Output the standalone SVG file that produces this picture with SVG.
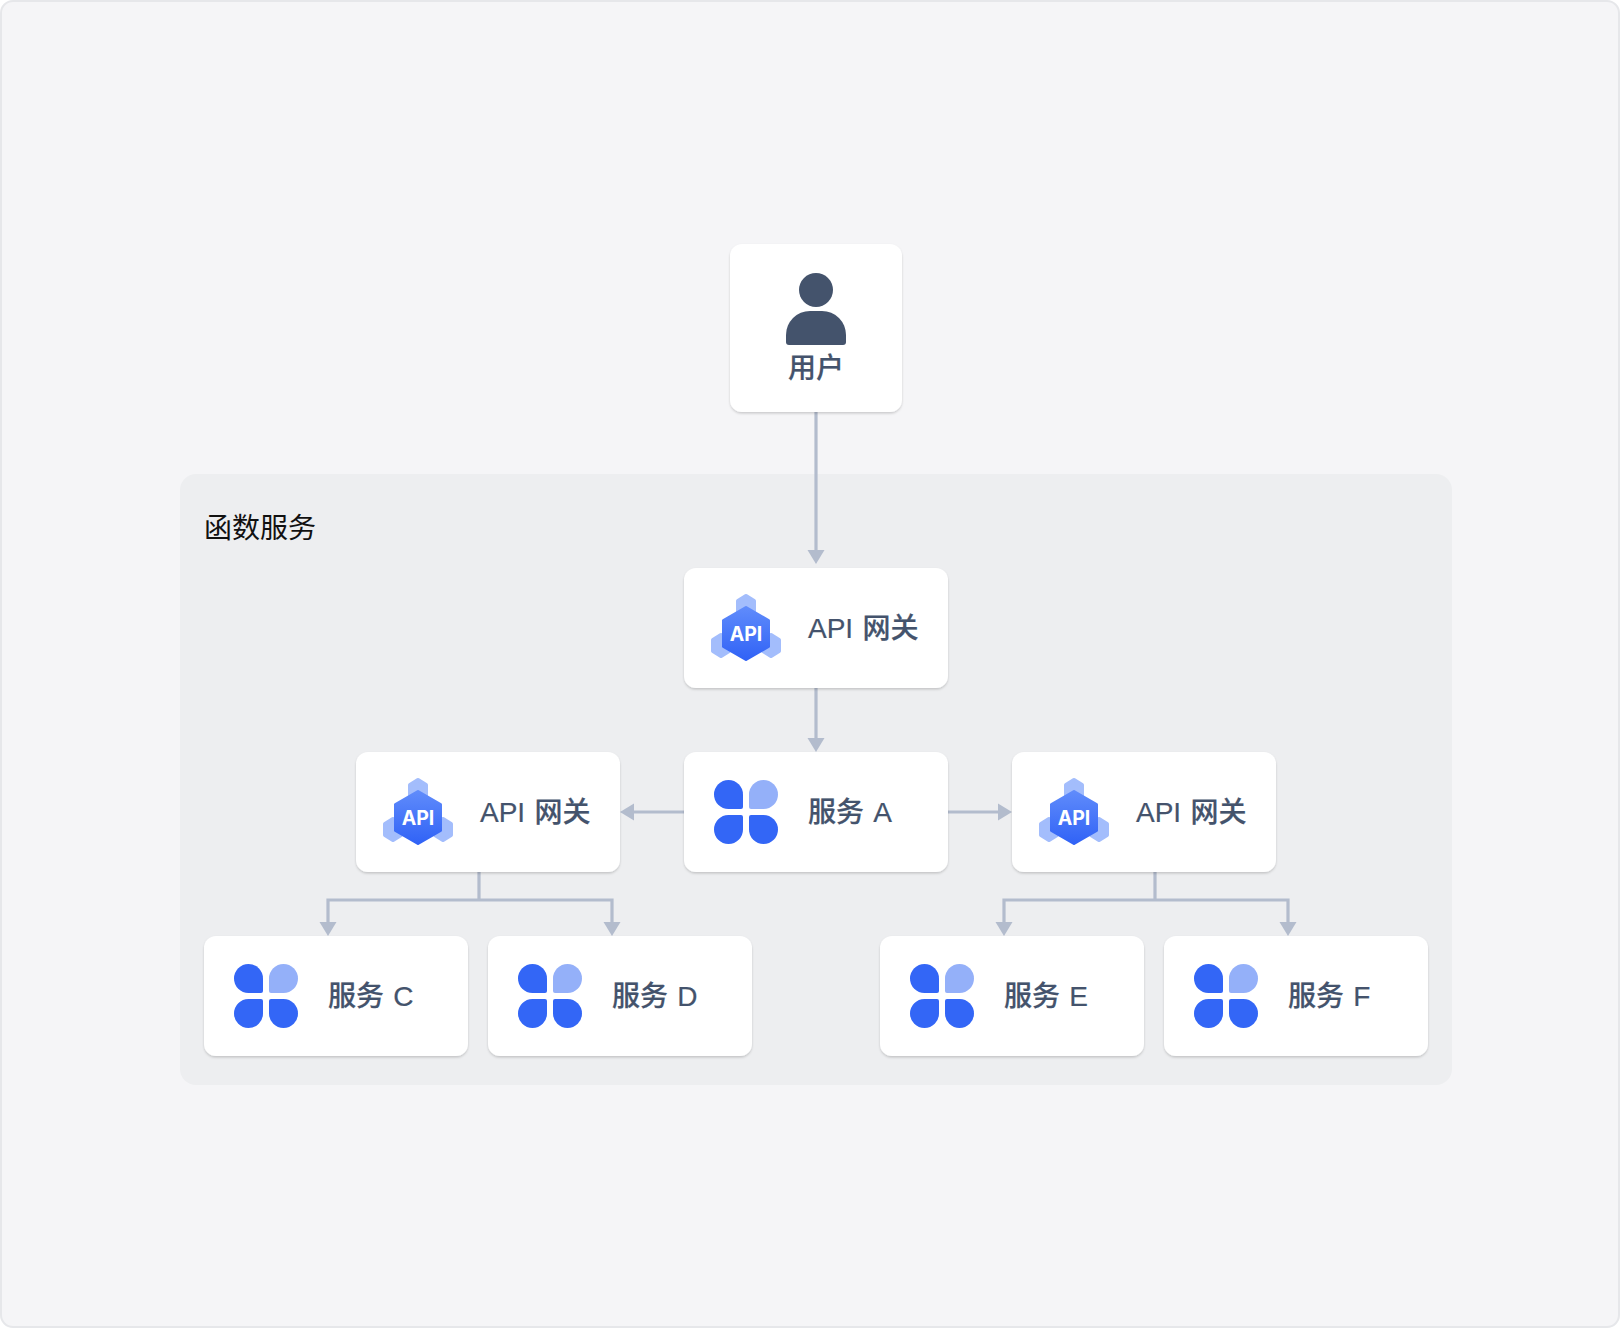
<svg xmlns="http://www.w3.org/2000/svg" width="1620" height="1328" viewBox="0 0 1620 1328">
<style>
.card{fill:#fff;stroke:none;filter:url(#sh)}
.lbl{font-family:"Liberation Sans","Noto Sans CJK SC",sans-serif;font-size:28px;font-weight:500;fill:#44536c;stroke:#44536c;stroke-width:.2;word-spacing:1.500px}
.ln{fill:none;stroke:#b3bccd;stroke-width:3.200}
.ah{fill:#b3bccd}
.d{fill:#3366f6}
.l{fill:#94b0f9}
.sm{fill:#a3bdfc;stroke:#a3bdfc;stroke-width:4;stroke-linejoin:round}
</style>
<defs>
<filter id="sh" x="-5%" y="-5%" width="110%" height="115%"><feDropShadow dx="0" dy="1.500" stdDeviation="0.800" flood-color="#000" flood-opacity="0.180"/></filter>
<linearGradient id="hg" x1="0" y1="0" x2="0" y2="1"><stop offset="0" stop-color="#5f8bfb"/><stop offset="1" stop-color="#3163f6"/></linearGradient>
<g id="clover">
<path class="d" d="M14.500 0A14.500 14.500 0 0 1 29 14.500V27A2 2 0 0 1 27 29H14.500A14.500 14.500 0 0 1 14.500 0Z"/>
<path class="l" d="M49.500 0A14.500 14.500 0 0 1 49.500 29H37A2 2 0 0 1 35 27V14.500A14.500 14.500 0 0 1 49.500 0Z"/>
<path class="d" d="M14.500 35H27A2 2 0 0 1 29 37V49.500A14.500 14.500 0 0 1 0 49.500A14.500 14.500 0 0 1 14.500 35Z"/>
<path class="d" d="M37 35H49.500A14.500 14.500 0 0 1 49.500 64A14.500 14.500 0 0 1 35 49.500V37A2 2 0 0 1 37 35Z"/>
</g>
<g id="apiicon">
<path class="sm" d="M36 2L44 7V18L36 23L28 18V7Z"/>
<path class="sm" d="M11 41L19 46V57L11 62L3 57V46Z"/>
<path class="sm" d="M61 41L69 46V57L61 62L53 57V46Z"/>
<path fill="url(#hg)" stroke="url(#hg)" stroke-width="3" stroke-linejoin="round" d="M36 13.500L58.500 26.500V52.500L36 65.500L13.500 52.500V26.500Z"/>
<text x="36" y="47" text-anchor="middle" font-family="Inter,'Liberation Sans',sans-serif" font-weight="700" font-size="19.500" fill="#fff">API</text>
</g>
</defs>
<rect id="canvas" x="1" y="1" width="1618" height="1326" rx="12" fill="#f5f5f7" stroke="#e6e7ea" stroke-width="2"/>
<g id="group-fn">
<rect x="180" y="474" width="1272" height="611" rx="16" fill="#edeef0"/>
<text x="204" y="538" font-family="'Noto Sans CJK SC',sans-serif" font-size="28" fill="#111">函数服务</text>
</g>
<g id="connectors">
<path class="ln" d="M816 412V552"/><path class="ah" d="M807.500 550H824.500L816 564Z"/>
<path class="ln" d="M816 688V740"/><path class="ah" d="M807.500 738H824.500L816 752Z"/>
<path class="ln" d="M684 812H632"/><path class="ah" d="M634 803.500V820.500L620 812Z"/>
<path class="ln" d="M948 812H1000"/><path class="ah" d="M998 803.500V820.500L1012 812Z"/>
<path class="ln" d="M479 872V900M328 924V900H612V924"/><path class="ah" d="M319.500 922H336.500L328 936Z"/><path class="ah" d="M603.500 922H620.500L612 936Z"/>
<path class="ln" d="M1155 872V900M1004 924V900H1288V924"/><path class="ah" d="M995.500 922H1012.500L1004 936Z"/><path class="ah" d="M1279.500 922H1296.500L1288 936Z"/>
</g>
<g id="user">
<rect class="card" x="730" y="244" width="172" height="168" rx="12"/>
<circle cx="816" cy="290" r="17" fill="#44536c"/>
<path fill="#44536c" d="M786 342V335A24 24 0 0 1 810 311H822A24 24 0 0 1 846 335V342A3 3 0 0 1 843 345H789A3 3 0 0 1 786 342Z"/>
<text class="lbl" x="816" y="378" text-anchor="middle">用户</text>
</g>
<g id="gateway-main">
<rect class="card" x="684" y="568" width="264" height="120" rx="12"/>
<use href="#apiicon" x="710" y="594"/>
<text class="lbl" x="808" y="638">API 网关</text>
</g>
<g id="service-a">
<rect class="card" x="684" y="752" width="264" height="120" rx="12"/>
<use href="#clover" x="714" y="780"/>
<text class="lbl" x="808" y="822">服务 A</text>
</g>
<g id="gateway-left">
<rect class="card" x="356" y="752" width="264" height="120" rx="12"/>
<use href="#apiicon" x="382" y="778"/>
<text class="lbl" x="480" y="822">API 网关</text>
</g>
<g id="gateway-right">
<rect class="card" x="1012" y="752" width="264" height="120" rx="12"/>
<use href="#apiicon" x="1038" y="778"/>
<text class="lbl" x="1136" y="822">API 网关</text>
</g>
<g id="service-c">
<rect class="card" x="204" y="936" width="264" height="120" rx="12"/>
<use href="#clover" x="234" y="964"/>
<text class="lbl" x="328" y="1006">服务 C</text>
</g>
<g id="service-d">
<rect class="card" x="488" y="936" width="264" height="120" rx="12"/>
<use href="#clover" x="518" y="964"/>
<text class="lbl" x="612" y="1006">服务 D</text>
</g>
<g id="service-e">
<rect class="card" x="880" y="936" width="264" height="120" rx="12"/>
<use href="#clover" x="910" y="964"/>
<text class="lbl" x="1004" y="1006">服务 E</text>
</g>
<g id="service-f">
<rect class="card" x="1164" y="936" width="264" height="120" rx="12"/>
<use href="#clover" x="1194" y="964"/>
<text class="lbl" x="1288" y="1006">服务 F</text>
</g>
</svg>
